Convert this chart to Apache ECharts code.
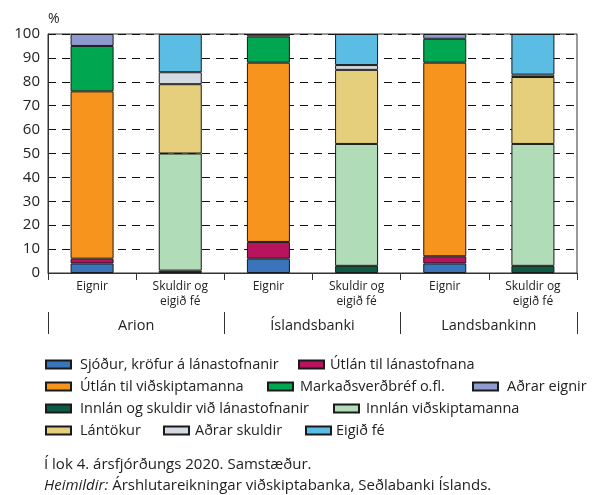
<!DOCTYPE html>
<html>
<head>
<meta charset="utf-8">
<script src="https://cdn.jsdelivr.net/npm/echarts@6/dist/echarts.min.js"></script>
<style>html,body{margin:0;padding:0;background:#fff}#c{width:599px;height:495px}</style>
</head>
<body>
<div id="c"></div>
<script>
const categories = ['Eignir', 'Skuldir og\neigið fé', 'Eignir', 'Skuldir og\neigið fé', 'Eignir', 'Skuldir og\neigið fé'];
const groups = ['Arion', 'Íslandsbanki', 'Landsbankinn'];
const yTicks = [0, 10, 20, 30, 40, 50, 60, 70, 80, 90, 100];

const sjodur        = [4, '-', 6, '-', 4, '-'];
const utlanLanast   = [2, '-', 7, '-', 3, '-'];
const utlanVidsk    = [70, '-', 75, '-', 81, '-'];
const markadsverd   = [19, '-', 11, '-', 10, '-'];
const adrarEignir   = [5, '-', 1, '-', 2, '-'];
const innlanLanast  = ['-', 1, '-', 3, '-', 3];
const innlanVidsk   = ['-', 49, '-', 51, '-', 51];
const lantokur      = ['-', 29, '-', 31, '-', 28];
const adrarSkuldir  = ['-', 5, '-', 2, '-', 1];
const eigidFe       = ['-', 16, '-', 13, '-', 17];

const seriesNames = ['Sjóður, kröfur á lánastofnanir', 'Útlán til lánastofnana', 'Útlán til viðskiptamanna',
  'Markaðsverðbréf o.fl.', 'Aðrar eignir', 'Innlán og skuldir við lánastofnanir', 'Innlán viðskiptamanna',
  'Lántökur', 'Aðrar skuldir', 'Eigið fé'];
const seriesData = [sjodur, utlanLanast, utlanVidsk, markadsverd, adrarEignir, innlanLanast, innlanVidsk, lantokur, adrarSkuldir, eigidFe];
const colors = ['#3a75bb', '#b8135d', '#f7941e', '#00a650', '#8f9bcf', '#0d5a45', '#b0dcb8', '#e6cf7c', '#d4dae2', '#5bbde3'];

const FONT = '"Open Sans", "DejaVu Sans", sans-serif';
const legendPos = [[45,364],[298,364],[45,386],[267,386],[472,386],[45,408],[333,408],[45,430],[163,430],[305,430]];
const legendGap = [4, 1, 4, 2, 4, 4, 2, 4, 1, 0];

const chart = echarts.init(document.getElementById('c'), null, {renderer: 'canvas'});
chart.setOption({
  animation: false,
  textStyle: {fontFamily: FONT, color: '#222'},
  grid: {left: 48, right: 22, top: 34, bottom: 222, show: true, borderColor: '#333', borderWidth: 1, backgroundColor: 'transparent'},
  xAxis: [{
    type: 'category', data: categories, position: 'bottom',
    axisLine: {lineStyle: {color: '#333', width: 1}},
    axisTick: {show: true, length: 7, lineStyle: {color: '#333'}},
    axisLabel: {fontSize: 12, color: '#222', margin: 6, lineHeight: 15, interval: 0, fontFamily: FONT}
  }, {
    type: 'category', data: groups, position: 'bottom', offset: 39,
    axisLine: {show: false},
    axisTick: {show: true, length: 22, lineStyle: {color: '#333'}},
    axisLabel: {fontSize: 14.5, color: '#222', margin: 6, fontFamily: FONT}
  }],
  yAxis: {
    type: 'value', min: 0, max: 100, interval: 10,
    name: '%', nameLocation: 'end', nameGap: 8,
    nameTextStyle: {fontSize: 14, color: '#222', align: 'left', fontFamily: FONT},
    axisLine: {show: true, lineStyle: {color: '#333'}},
    axisTick: {show: false},
    axisLabel: {fontSize: 15, color: '#222', margin: 8, fontFamily: FONT},
    splitLine: {show: true, lineStyle: {color: '#111', type: [8, 6], width: 1}}
  },
  legend: seriesNames.map((n, i) => ({
    data: [n],
    left: legendPos[i][0], top: legendPos[i][1] - 7, padding: 0,
    itemWidth: 25, itemHeight: 8, icon: 'rect', selectedMode: false,
    formatter: '{a|}' + '{b|' + n + '}',
    textStyle: {fontSize: 14.5, color: '#222', fontFamily: FONT,
      rich: {a: {width: legendGap[i]}, b: {fontSize: 14.5, color: '#222', fontFamily: FONT}}}
  })),
  series: seriesNames.map((n, i) => ({
    name: n, type: 'bar', stack: 'total', data: seriesData[i], barWidth: 43,
    itemStyle: {color: colors[i], borderColor: '#1a1a1a', borderWidth: 1}
  })),
  graphic: [{
    type: 'text', left: 44, top: 457,
    style: {text: 'Í lok 4. ársfjórðungs 2020. Samstæður.', font: '15px ' + FONT, fill: '#222'}
  }, {
    type: 'text', left: 44, top: 478,
    style: {text: '{i|Heimildir:} Árshlutareikningar viðskiptabanka, Seðlabanki Íslands.', font: '15px ' + FONT, fill: '#222',
      rich: {i: {fontStyle: 'italic', fontSize: 15, fontFamily: FONT}}}
  }]
});
</script>
</body>
</html>
